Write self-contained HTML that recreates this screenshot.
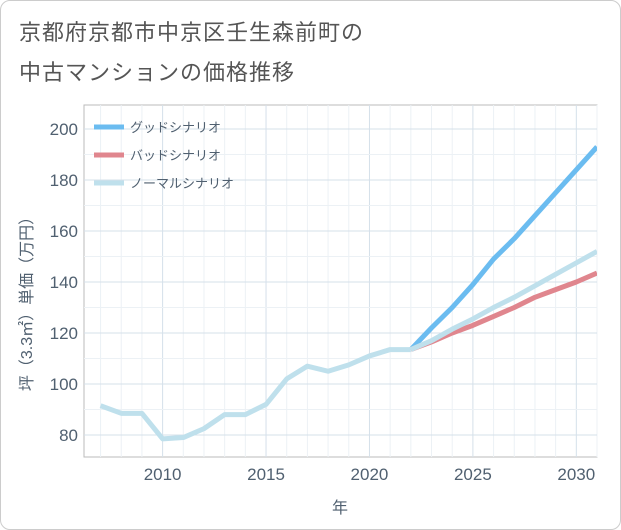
<!DOCTYPE html>
<html><head><meta charset="utf-8"><style>
body{margin:0;background:#fff;font-family:"Liberation Sans","Noto Sans CJK JP",sans-serif}
#wrap{position:relative;width:619px;height:528px;border:1px solid #ccc;border-radius:10px;background:#fff}
.t{position:absolute;left:18px;font-size:22px;color:#555;letter-spacing:1px}
</style></head><body>
<div id="wrap">
<div class="t" style="top:14px">京都府京都市中京区壬生森前町の</div>
<div class="t" style="top:54px">中古マンションの価格推移</div>
<svg id="c" width="621" height="530" style="position:absolute;left:-1px;top:-1px"></svg>
</div>
<script>
const years=[2007,2008,2009,2010,2011,2012,2013,2014,2015,2016,2017,2018,2019,2020,2021,2022];
const hist=[91.5,88.5,88.5,78.5,79,82.5,88,88,92,102,107,105,107.5,111,113.5,113.5];
const fYears=[2022,2023,2024,2025,2026,2027,2028,2029,2030,2031];
const good=[113.5,122,130,139,149,157,166,175,184,193];
const bad=[113.5,116.5,120,123,126.5,130,134,137,140,143.5];
const normal=[113.5,117,121.5,125.5,130,134,138.5,143,147.5,152];
const xTicks=[2010,2015,2020,2025,2030];
const yTicks=[80,100,120,140,160,180,200];
const L=84,R=597,T=105,B=457;
const x=v=>L+(v-2006.2)/(2031-2006.2)*(R-L);
const y=v=>435-(v-80)*2.55;
const s=document.getElementById('c');const NS='http://www.w3.org/2000/svg';
function mk(t,a,p){const e=document.createElementNS(NS,t);for(const k in a)e.setAttribute(k,a[k]);(p||s).appendChild(e);return e;}
const bg=mk('rect',{x:L,y:T,width:R-L,height:B-T,fill:'#fff',stroke:'#bbb'});


for(let yr=2007;yr<=2031;yr++){const g=mk('line',{x1:x(yr),x2:x(yr),y1:T,y2:B,stroke:yr%5==0?'#d5e0ea':'#ecf1f5'});

}
for(let v=80;v<=200;v+=10){const g=mk('line',{x1:L,x2:R,y1:y(v),y2:y(v),stroke:v%20==0?'#d5e0ea':'#ecf1f5'});

}
xTicks.forEach(v=>{const t=mk('text',{x:x(v),y:480,'text-anchor':'middle','font-size':17,fill:'#506070'});t.textContent=v;

});
yTicks.forEach(v=>{const t=mk('text',{x:78,y:y(v)+6,'text-anchor':'end','font-size':17,fill:'#506070'});t.textContent=v;

});
const xt=mk('text',{x:340,y:513,'text-anchor':'middle','font-size':16,fill:'#506070'});xt.textContent='年';


const yt=mk('text',{x:0,y:0,'text-anchor':'middle','font-size':16,fill:'#506070',transform:'translate(32,300) rotate(-90)'});yt.textContent='坪（3.3㎡）単価（万円）';


const cp=mk('clipPath',{id:'cp'});mk('rect',{x:L,y:T,width:R-L,height:B-T},cp);
function line(xs,vs,col,name){const p=mk('polyline',{points:xs.map((v,i)=>x(v)+','+y(vs[i])).join(' '),fill:'none',stroke:col,'stroke-width':5,'stroke-linejoin':'round','clip-path':'url(#cp)'});

}
line(fYears,good,'#6bbcf0','good-scenario-line');
line(fYears,bad,'#e0868e','bad-scenario-line');
line(fYears,normal,'#bfe0ec','normal-scenario-line');
line(years,hist,'#bfe0ec','historical-line');
const lg=[['グッドシナリオ','#6bbcf0'],['バッドシナリオ','#e0868e'],['ノーマルシナリオ','#bfe0ec']];
lg.forEach((d,i)=>{const gy=127+i*28;
const l=mk('line',{x1:94,x2:124,y1:gy,y2:gy,stroke:d[1],'stroke-width':5});


const t=mk('text',{x:130,y:gy+5,'font-size':13,fill:'#506070'});t.textContent=d[0];

});
</script>
</body></html>
